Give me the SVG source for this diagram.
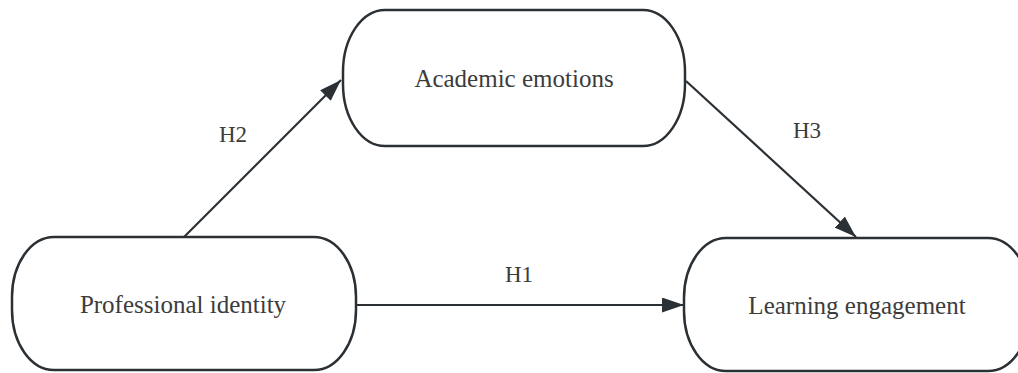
<svg xmlns="http://www.w3.org/2000/svg" width="1018" height="373" viewBox="0 0 1018 373">
<defs>
<style>
.node rect{fill:#fff;stroke:#2b3035;stroke-width:2.5}
.node text{font-family:"Liberation Serif","Times New Roman",serif;font-size:25px;fill:#3c3c3c;text-anchor:middle}
.lbl{font-family:"Liberation Serif","Times New Roman",serif;font-size:23px;fill:#3c3c3c;text-anchor:middle}
.edge{stroke:#2b3035;stroke-width:2.2;fill:none}
</style>
<marker id="arr" viewBox="0 0 22 15" refX="22" refY="7.5" markerWidth="22" markerHeight="15" markerUnits="userSpaceOnUse" orient="auto">
<path d="M0,0 L22,7.5 L0,15 Z" fill="#2b3035"/>
</marker>
</defs>
<rect width="1018" height="373" fill="#fff"/>
<g id="connectors">
<path class="edge" d="M356,305 L684,305" marker-end="url(#arr)"/>
<path class="edge" d="M184,237 L341,80" marker-end="url(#arr)"/>
<path class="edge" d="M686,81 L856,237" marker-end="url(#arr)"/>
<text class="lbl" x="519" y="282">H1</text>
<text class="lbl" x="233" y="142">H2</text>
<text class="lbl" x="807" y="138">H3</text>
</g>
<g id="node-academic" class="node">
<rect x="343" y="10" width="342" height="136" rx="42" ry="62"/>
<text x="514" y="87">Academic emotions</text>
</g>
<g id="node-professional" class="node">
<rect x="12" y="237" width="344" height="133" rx="42" ry="60"/>
<text x="183" y="313">Professional identity</text>
</g>
<g id="node-learning" class="node">
<rect x="684" y="238" width="346" height="133" rx="42" ry="60"/>
<text x="857" y="314">Learning engagement</text>
</g>
</svg>
